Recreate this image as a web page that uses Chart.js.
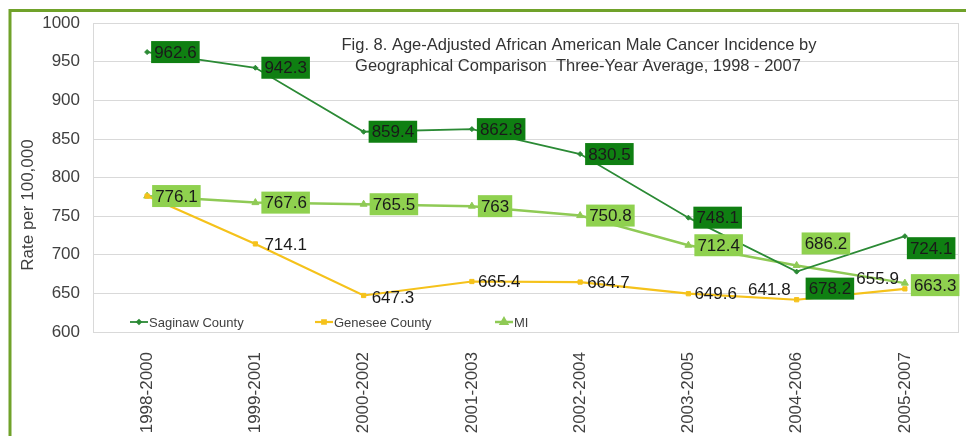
<!DOCTYPE html>
<html>
<head>
<meta charset="utf-8">
<title>Age-Adjusted African American Male Cancer Incidence</title>
<script src="https://cdn.jsdelivr.net/npm/chart.js@4.4.1/dist/chart.umd.min.js"></script>
<style>
  html, body { margin: 0; padding: 0; background: #fff; }
  canvas { display: block; }
</style>
</head>
<body>
<canvas id="incidenceChart" width="966" height="436"></canvas>
<script>
// three-year rolling periods
const periods = ['1998-2000', '1999-2001', '2000-2002', '2001-2003', '2002-2004', '2003-2005', '2004-2006', '2005-2007'];

// rate per 100,000
const saginaw = [962.6, 942.3, 859.4, 862.8, 830.5, 748.1, 678.2, 724.1];
const genesee = [776.1, 714.1, 647.3, 665.4, 664.7, 649.6, 641.8, 655.9];
const michigan = [776.1, 767.6, 765.5, 763, 750.8, 712.4, 686.2, 663.3];

const yMin = 600;
const yMax = 1000;
const yStep = 50;

const titleLines = [
  'Fig. 8. Age-Adjusted African American Male Cancer Incidence by',
  'Geographical Comparison  Three-Year Average, 1998 - 2007'
];
const yTitle = 'Rate per 100,000';

const FONT = '"Liberation Sans", Arial, sans-serif';
const TEXT = '#404040';

// where each value label sits relative to its point (default: to the right)
const saginawLabelShift = [{dx: 4}, {dx: 6}, {dx: 5}, {dx: 5}, {dx: 5}, {dx: 5}, {dx: 9, dy: 17}, {dx: 2, dy: 12}];
const geneseeLabelShift = [{dx: 8}, {dx: 9}, {dx: 8, dy: 2}, {dx: 6}, {dx: 7}, {dx: 6}, {dx: -6, dy: -10}, {dx: -6, dy: -11}];
const michiganLabelShift = [{dx: 5}, {dx: 6}, {dx: 6}, {dx: 6}, {dx: 6}, {dx: 6}, {dx: 5, dy: -22}, {dx: 6, dy: 2}];

const series = [
  {label: 'Saginaw County', data: saginaw, color: '#2b8a35', box: '#0f7f12', style: 'rectRot', radius: 2.5, width: 1.8, shift: saginawLabelShift},
  {label: 'Genesee County', data: genesee, color: '#f5c21b', box: null, style: 'rect', radius: 3, width: 2.2, shift: geneseeLabelShift},
  {label: 'MI', data: michigan, color: '#8fca55', box: '#8fd14f', style: 'triangle', radius: 4, width: 2.5, shift: michiganLabelShift}
];

// value labels, frame, title, axis title and the in-plot legend
const decorations = {
  id: 'decorations',
  beforeDraw(chart) {
    const ctx = chart.ctx;
    ctx.save();
    ctx.fillStyle = '#fff';
    ctx.fillRect(0, 0, chart.width, chart.height);
    ctx.restore();
  },
  afterDatasetsDraw(chart) {
    const ctx = chart.ctx;
    const area = chart.chartArea;
    ctx.save();

    // plot box
    ctx.strokeStyle = '#d9d9d9';
    ctx.lineWidth = 1;
    ctx.strokeRect(Math.round(area.left) + 0.5, Math.round(area.top) + 0.5,
      Math.round(area.right - area.left) - 1, Math.round(area.bottom - area.top));

    // labels: plain ones first so the boxed ones cover them
    ctx.font = '17px ' + FONT;
    ctx.textBaseline = 'middle';
    const order = [1, 2, 0];
    order.forEach(i => {
      const s = series[i];
      const meta = chart.getDatasetMeta(i);
      meta.data.forEach((pt, j) => {
        const text = String(s.data[j]);
        const sh = s.shift[j] || {};
        const dx = sh.dx || 0;
        const dy = sh.dy || 0;
        const w = ctx.measureText(text).width;
        const cy = pt.y + dy;
        if (s.box) {
          const bw = w + 6;
          const bx = pt.x + dx;
          ctx.fillStyle = s.box;
          ctx.fillRect(bx, cy - 11, bw, 22);
          ctx.fillStyle = '#1a1a1a';
          ctx.textAlign = 'center';
          ctx.fillText(text, bx + bw / 2, cy + 1);
        } else {
          ctx.fillStyle = '#1a1a1a';
          ctx.textAlign = dx < 0 ? 'right' : 'left';
          ctx.fillText(text, pt.x + dx, cy + 1);
        }
      });
    });

    // legend inside the plot, along the bottom
    const legendX = [130, 315, 495];
    const legendY = 322;
    ctx.font = '13px ' + FONT;
    ctx.textAlign = 'left';
    series.forEach((s, i) => {
      const x = legendX[i];
      ctx.strokeStyle = s.color;
      ctx.lineWidth = s.width;
      ctx.beginPath();
      ctx.moveTo(x, legendY);
      ctx.lineTo(x + 18, legendY);
      ctx.stroke();
      ctx.fillStyle = s.color;
      Chart.helpers.drawPoint(ctx, {pointStyle: s.style, radius: s.radius - 0.5, rotation: 0, borderWidth: 1}, x + 9, legendY);
      ctx.fillStyle = TEXT;
      ctx.fillText(s.label, x + 19, legendY + 1);
    });

    // figure title
    ctx.font = '16.5px ' + FONT;
    ctx.fillStyle = '#333';
    ctx.textAlign = 'center';
    ctx.fillText(titleLines[0], 579, 45);
    ctx.fillText(titleLines[1], 578, 66);

    // y axis title
    ctx.font = '17px ' + FONT;
    ctx.fillStyle = TEXT;
    ctx.translate(28, 205);
    ctx.rotate(-Math.PI / 2);
    ctx.fillText(yTitle, 0, 0);
    ctx.setTransform(1, 0, 0, 1, 0, 0);

    // green frame on the top and left
    ctx.strokeStyle = '#70a22a';
    ctx.lineWidth = 3;
    ctx.beginPath();
    ctx.moveTo(10, chart.height);
    ctx.lineTo(10, 10.5);
    ctx.lineTo(chart.width, 10.5);
    ctx.stroke();

    ctx.restore();
  }
};

new Chart(document.getElementById('incidenceChart'), {
  type: 'line',
  data: {
    labels: periods,
    datasets: series.map(s => ({
      label: s.label,
      data: s.data,
      borderColor: s.color,
      backgroundColor: s.color,
      borderWidth: s.width,
      pointStyle: s.style,
      pointRadius: s.radius,
      pointBorderWidth: 1,
      pointBackgroundColor: s.color,
      pointBorderColor: s.color,
      tension: 0,
      fill: false
    }))
  },
  options: {
    responsive: false,
    animation: false,
    devicePixelRatio: 1,
    layout: {
      padding: {top: 22, right: 7, left: 0, bottom: 0}
    },
    plugins: {
      legend: {display: false},
      title: {display: false},
      tooltip: {enabled: false}
    },
    scales: {
      x: {
        offset: true,
        grid: {display: false},
        border: {display: false},
        ticks: {
          autoSkip: false,
          minRotation: 90,
          maxRotation: 90,
          padding: 12,
          color: TEXT,
          font: {family: FONT, size: 17}
        },
        afterFit(scale) {
          scale.height = 104;
        }
      },
      y: {
        min: yMin,
        max: yMax,
        grid: {color: '#d9d9d9', drawTicks: false},
        border: {display: false},
        ticks: {
          stepSize: yStep,
          padding: 13,
          color: TEXT,
          font: {family: FONT, size: 17},
          callback: value => String(value)
        },
        afterFit(scale) {
          scale.width = 93;
        }
      }
    }
  },
  plugins: [decorations]
});
</script>
</body>
</html>
